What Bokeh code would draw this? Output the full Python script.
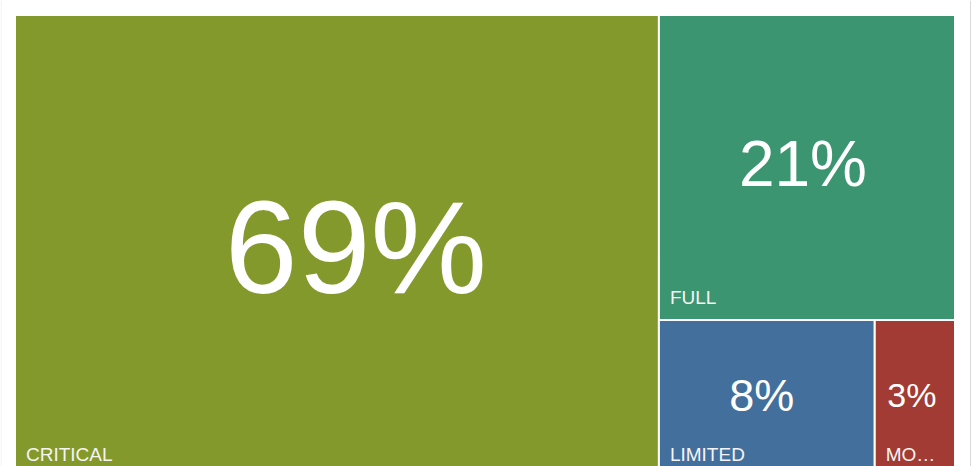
from bokeh.plotting import figure
from bokeh.models import Range1d, ColumnDataSource, Span
from bokeh.core.properties import value
from bokeh.embed import file_html
from bokeh.resources import INLINE

# ---- data ----
categories = ["CRITICAL", "FULL", "LIMITED", "MO…"]
shares = [68.5, 20.8, 7.8, 2.9]
colors = ["#84992B", "#3C9571", "#436F9C", "#A13B33"]

# ---- styles ----
pct_font_sizes = ["131px", "64px", "45px", "34px"]
pct_x_offsets = [19, -4, -5, -3]
pct_y_offsets = [1, -4, -3, -4]
FONT = "Liberation Sans"

# treemap container (screen-like coordinates, y grows downward)
TM_LEFT, TM_TOP, TM_W, TM_H = 14.5, 14.5, 940.0, 462.0


def squarify(vals, x, y, w, h):
    """Squarified treemap layout; returns list of (x, y, w, h)."""
    total = sum(vals)
    scale = w * h / total
    areas = [v * scale for v in vals]
    rects = []

    def worst(row, side):
        s = sum(row)
        return max(max(side * side * a / (s * s), (s * s) / (side * side * a)) for a in row)

    i = 0
    while i < len(areas):
        side = min(w, h)
        row = [areas[i]]
        j = i + 1
        while j < len(areas) and worst(row + [areas[j]], side) <= worst(row, side):
            row.append(areas[j])
            j += 1
        s = sum(row)
        if w >= h:  # column along the height
            cw = s / h
            cy = y
            for a in row:
                rh = a / cw
                rects.append((x, cy, cw, rh))
                cy += rh
            x += cw
            w -= cw
        else:  # row along the width
            rh = s / w
            cx = x
            for a in row:
                rw = a / rh
                rects.append((cx, y, rw, rh))
                cx += rw
            y += rh
            h -= rh
        i = j
    return rects


rects = squarify(shares, TM_LEFT, TM_TOP, TM_W, TM_H)
left = [r[0] for r in rects]
top = [r[1] for r in rects]
right = [r[0] + r[2] for r in rects]
bottom = [r[1] + r[3] for r in rects]
cx = [r[0] + r[2] / 2 for r in rects]
cy = [r[1] + r[3] / 2 for r in rects]
pct_text = [f"{int(v + 0.5)}%" for v in shares]

src = ColumnDataSource(dict(
    left=left, right=right, top=top, bottom=bottom, cx=cx, cy=cy,
    color=colors, cat=categories, pct=pct_text,
    fs=pct_font_sizes, xo=pct_x_offsets, yo=pct_y_offsets,
))

p = figure(width=980, height=466, output_backend="svg", toolbar_location=None,
           x_range=Range1d(0, 980), y_range=Range1d(466, 0),
           min_border=0, min_border_left=0, min_border_right=0,
           min_border_top=0, min_border_bottom=0)
p.axis.visible = False
p.grid.visible = False
p.outline_line_color = None
p.background_fill_color = "white"
p.border_fill_color = "white"

p.quad(left="left", right="right", top="top", bottom="bottom", source=src,
       fill_color="color", line_color="white", line_width=2)

p.text(x="cx", y="cy", text="pct", source=src, text_align="center",
       text_baseline="middle", text_color="white", text_font=value(FONT),
       text_font_size="fs", x_offset="xo", y_offset="yo")

p.text(x="left", y="bottom", text="cat", source=src, text_align="left",
       text_baseline="alphabetic", text_color="#f4f4f4", text_font=value(FONT),
       text_font_size="19px", x_offset=11, y_offset=-23)

p.add_layout(Span(location=970, dimension="height", line_color="#d9d9d9", line_width=1))
p.add_layout(Span(location=0.5, dimension="height", line_color="#f0f0f0", line_width=1))

open("out.html", "w").write(file_html(p, INLINE))
